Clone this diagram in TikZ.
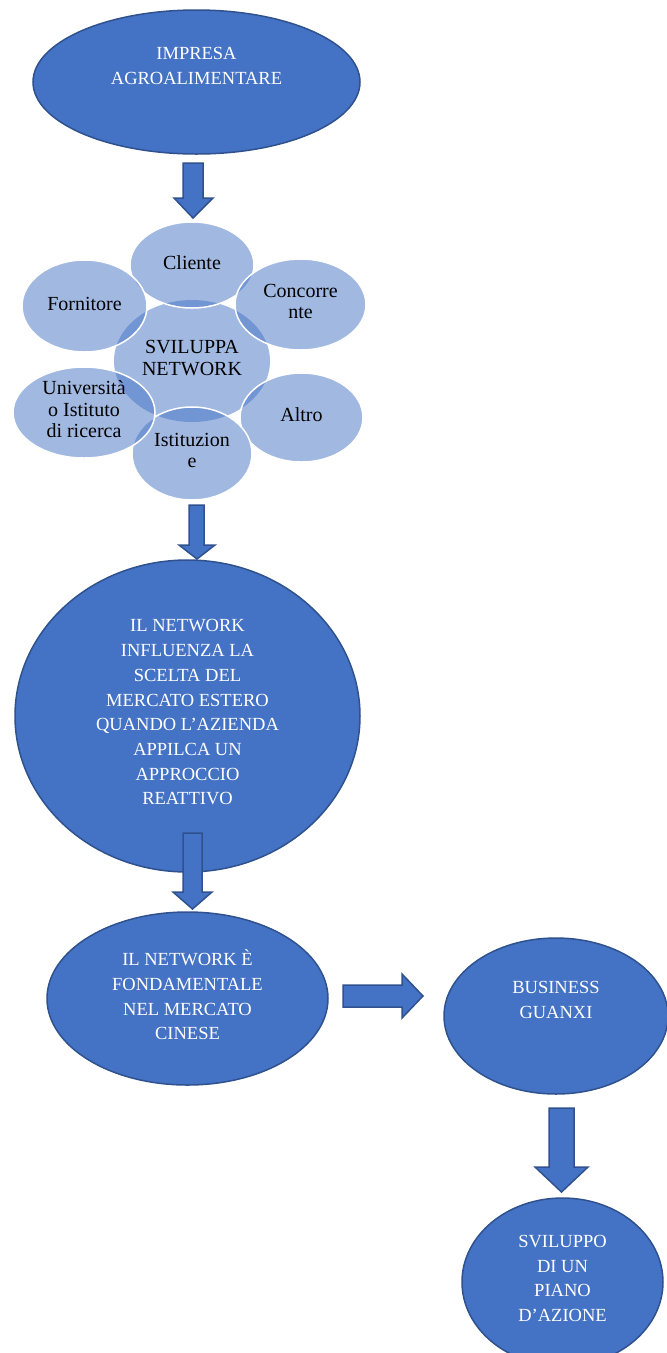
\documentclass[tikz,border=0pt]{standalone}
\usepackage{fontspec}
\setmainfont{Liberation Serif}
\usetikzlibrary{shapes.geometric}
\definecolor{wordblue}{HTML}{4472C4}
\definecolor{wordedge}{HTML}{2F528F}
\newcommand\bubblefont{\fontsize{18.5}{24.7}\selectfont}
\newcommand\satfont{\fontsize{20}{21.5}\selectfont}
\begin{document}
\begin{tikzpicture}[x=1pt,y=-1pt,
  bubble/.style={ellipse, draw=wordedge, line width=1.5pt, fill=wordblue,
    text=white, font=\bubblefont, align=center, inner sep=0pt,
    execute at begin node=\strut, execute at end node=\strut},
  hub/.style={ellipse, fill=wordblue, fill opacity=0.5, text opacity=1,
    text=black, font=\satfont, align=center, inner sep=0pt,
    execute at begin node=\strut, execute at end node=\strut},
  satellite/.style={hub, draw=white, line width=1.5pt},
  blockarrow/.style={draw=wordedge, line width=1.5pt, fill=wordblue, line join=miter}]
\useasboundingbox (0,0) rectangle (667,1353);

% top company bubble (the empty last line lifts the text as in the source)
\node[bubble, minimum width=327pt, minimum height=144pt] (impresa) at (196.5,82)
  {IMPRESA\\AGROALIMENTARE\\};

% radial network cluster
\node[hub, minimum width=156pt, minimum height=122pt] (hubnet) at (192,361) {SVILUPPA\\NETWORK};
\node[satellite, minimum width=124pt, minimum height=86pt] (cliente) at (192,265) {Cliente};
\node[satellite, minimum width=131pt, minimum height=91pt] (concorrente) at (300.5,304.5) {Concorre\\nte};
\node[satellite, minimum width=123pt, minimum height=89pt] (altro) at (301.5,417.5) {Altro};
\node[satellite, minimum width=120pt, minimum height=93pt] (istituzione) at (192,453.5) {Istituzion\\e};
\node[satellite, minimum width=142pt, minimum height=91pt] (universita) at (84,412.5) {Università\\o Istituto\\di ricerca};
\node[satellite, minimum width=125pt, minimum height=92pt] (fornitore) at (84.5,306) {Fornitore};

% main flow bubbles
\node[bubble, minimum width=345pt, minimum height=312pt] (influenza) at (187.5,716)
  {IL NETWORK\\INFLUENZA LA\\SCELTA DEL\\MERCATO ESTERO\\QUANDO L’AZIENDA\\APPILCA UN\\APPROCCIO\\REATTIVO};
\node[bubble, minimum width=281pt, minimum height=173pt] (cinese) at (187.5,998.5)
  {IL NETWORK È\\FONDAMENTALE\\NEL MERCATO\\CINESE};
\node[bubble, minimum width=224pt, minimum height=156pt] (guanxi) at (556,1016)
  {BUSINESS\\GUANXI\\};
\node[bubble, minimum width=201pt, minimum height=168pt] (piano) at (562.5,1282)
  {SVILUPPO\\DI UN\\PIANO\\D’AZIONE};

% block arrows
\draw[blockarrow] (183,163) -- (203,163) -- (203,198) -- (213,198) -- (193,218)
  -- (174,198) -- (183,198) -- cycle;
\draw[blockarrow] (189,505) -- (204,505) -- (204,545) -- (215,545) -- (197,559)
  -- (179,545) -- (189,545) -- cycle;
\draw[blockarrow] (183,833) -- (202,833) -- (202,892) -- (212,892) -- (192.5,909)
  -- (173,892) -- (183,892) -- cycle;
\draw[blockarrow] (343,985) -- (402,985) -- (402,974) -- (423,996) -- (402,1018)
  -- (402,1007) -- (343,1007) -- cycle;
\draw[blockarrow] (549,1108) -- (574,1108) -- (574,1167) -- (588,1167) -- (561.5,1192)
  -- (535,1167) -- (549,1167) -- cycle;
\end{tikzpicture}
\end{document}
